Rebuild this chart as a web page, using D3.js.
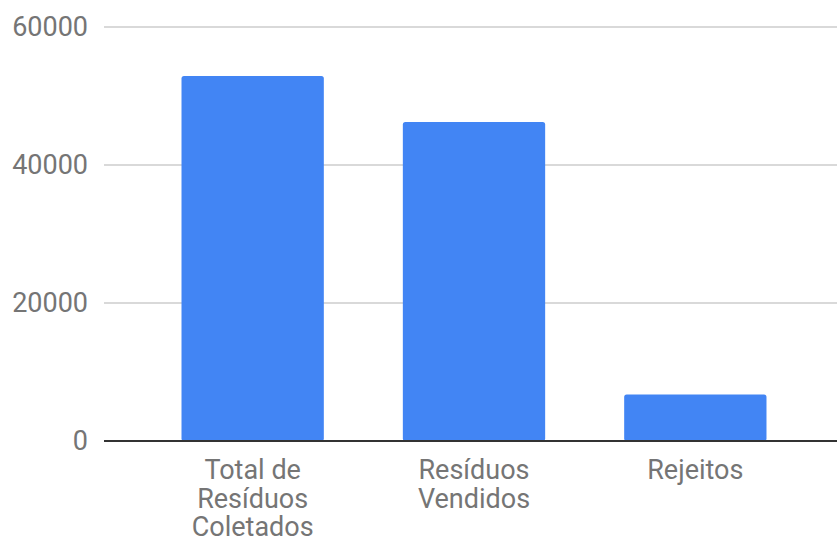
<!DOCTYPE html>
<html>
<head>
<meta charset="utf-8">
<script src="https://cdn.jsdelivr.net/npm/d3@7/dist/d3.min.js"></script>
<style>
  html, body { margin: 0; padding: 0; background: #fff; }
  svg { display: block; }
  text { font-family: Roboto, "Noto Sans", sans-serif; fill: #757575; }
</style>
</head>
<body>
<svg id="chart" width="837" height="541"></svg>
<script>
// Categories (each label split into its display lines) and their totals
const categories = ["Total de Resíduos Coletados", "Resíduos Vendidos", "Rejeitos"];
const categoryLines = [["Total de", "Resíduos", "Coletados"], ["Resíduos", "Vendidos"], ["Rejeitos"]];
const values = [52900, 46250, 6750];
const yTicks = [0, 20000, 40000, 60000];

const svg = d3.select("#chart");
const width = 837, height = 541;
const plot = { left: 104, right: 837, top: 27, bottom: 441 };

const y = d3.scaleLinear().domain([0, 60000]).range([plot.bottom, plot.top]);
const x = d3.scaleBand()
  .domain(categories)
  .range([142, 806])
  .paddingInner(0.357)
  .paddingOuter(0.1785);

// Horizontal gridlines
svg.append("g")
  .selectAll("line")
  .data(yTicks.filter(d => d !== 0))
  .join("line")
  .attr("x1", plot.left).attr("x2", plot.right)
  .attr("y1", d => y(d)).attr("y2", d => y(d))
  .attr("stroke", "#cccccc")
  .attr("stroke-width", 1.4);

// Y axis labels
const yAxis = d3.axisLeft(y).tickValues(yTicks).tickSize(0).tickPadding(0).tickFormat(d3.format("d"));
const gy = svg.append("g").attr("transform", `translate(88,0)`).call(yAxis);
gy.select(".domain").remove();
gy.selectAll("text")
  .style("font-size", "27px")
  .style("fill", "#757575")
  .style("font-family", "Roboto, 'Noto Sans', sans-serif");

// Bars with slightly rounded corners
svg.append("g")
  .selectAll("rect")
  .data(values)
  .join("rect")
  .attr("x", (d, i) => x(categories[i]))
  .attr("y", d => y(d))
  .attr("width", x.bandwidth())
  .attr("height", d => plot.bottom - y(d))
  .attr("rx", 2.5)
  .attr("fill", "#4285f4");

// Baseline
svg.append("line")
  .attr("x1", plot.left).attr("x2", plot.right)
  .attr("y1", y(0)).attr("y2", y(0))
  .attr("stroke", "#333333")
  .attr("stroke-width", 2.2);

// Category labels, wrapped onto several lines
const labels = svg.append("g")
  .selectAll("text")
  .data(categories)
  .join("text")
  .attr("text-anchor", "middle")
  .attr("x", d => x(d) + x.bandwidth() / 2)
  .attr("y", 470)
  .style("font-size", "27px");
labels.each(function (d, i) {
  const t = d3.select(this);
  categoryLines[i].forEach((line, j) => {
    t.append("tspan")
      .attr("x", x(d) + x.bandwidth() / 2)
      .attr("y", 470 + j * 28.5)
      .attr("dy", "0.35em")
      .text(line);
  });
});
</script>
</body>
</html>
